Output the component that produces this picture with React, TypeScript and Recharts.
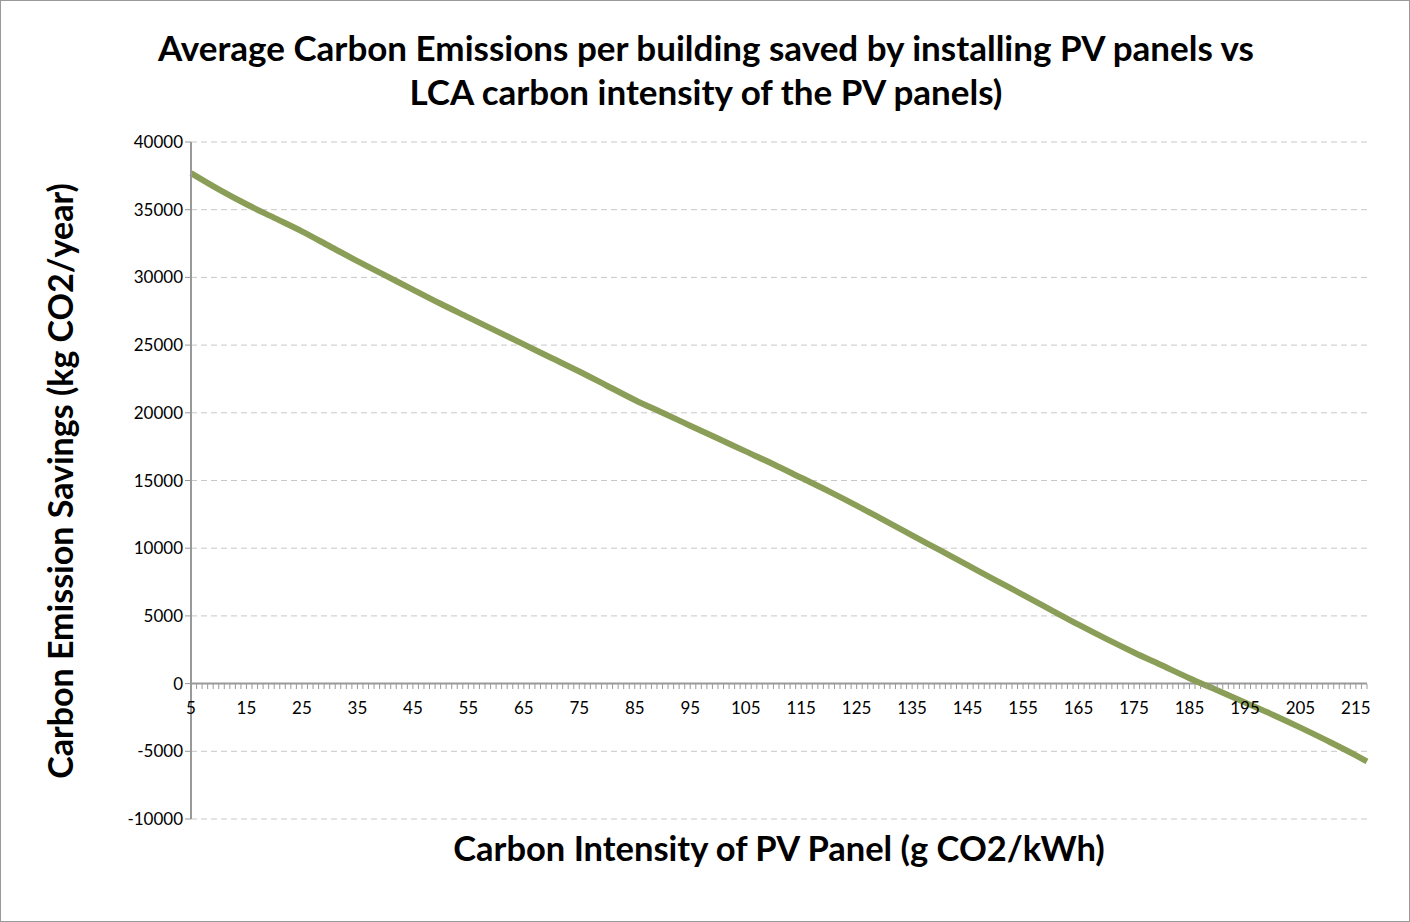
import React from 'react';
import { LineChart, Line, XAxis, YAxis, CartesianGrid, ReferenceLine } from 'recharts';

const xValues = [5, 10, 15, 20, 25, 30, 35, 40, 45, 50, 55, 60, 65, 70, 75, 80, 85, 90, 95, 100, 105, 110, 115, 120, 125, 130, 135, 140, 145, 150, 155, 160, 165, 170, 175, 180, 185, 190, 195, 200, 205, 210, 215, 217];
const savings = [37700, 36500, 35400, 34400, 33400, 32300, 31200, 30150, 29100, 28050, 27050, 26050, 25050, 24050, 23050, 22000, 20950, 20000, 19050, 18100, 17150, 16200, 15200, 14200, 13150, 12050, 10950, 9850, 8750, 7650, 6550, 5450, 4350, 3300, 2300, 1350, 400, -500, -1400, -2300, -3250, -4250, -5300, -5750];
const yTicks = [-10000, -5000, 0, 5000, 10000, 15000, 20000, 25000, 30000, 35000, 40000];
const xTicks: number[] = [];
for (let i = 5; i <= 217; i++) xTicks.push(i);

const data = xValues.map((x, i) => ({ x, v: savings[i] }));
const SHIFT = 135;
const font = 'Lato, "Open Sans", sans-serif';

const XTick = (props: any) => {
  const { x, y, payload } = props;
  const yy = y - SHIFT;
  const labeled = (payload.value - 5) % 10 === 0;
  return (
    <g>
      <line x1={x} x2={x} y1={yy - 8} y2={yy - 3} stroke="#999" strokeWidth={1} />
      {labeled && (
        <text x={x} y={yy + 22} textAnchor="middle" fontSize={17} fontFamily={font} fill="#000">
          {payload.value}
        </text>
      )}
    </g>
  );
};

export default function App() {
  return (
    <div style={{ position: 'absolute', left: 0, top: 0, width: 1410, height: 922, boxSizing: 'border-box', border: '1px solid #999', background: '#fff', fontFamily: font }}>
      <div style={{ position: 'absolute', top: 24, left: 0, width: 1410, textAlign: 'center', fontSize: 35, fontWeight: 700, lineHeight: '44px' }}>
        Average Carbon Emissions per building saved by installing PV panels vs<br />LCA carbon intensity of the PV panels)
      </div>
      <div style={{ position: 'absolute', left: 58, top: 480, transform: 'translate(-50%,-50%) rotate(-90deg)', whiteSpace: 'nowrap', fontSize: 34, fontWeight: 700 }}>
        Carbon Emission Savings (kg CO2/year)
      </div>
      <div style={{ position: 'absolute', left: 778, top: 846, transform: 'translate(-50%,-50%)', whiteSpace: 'nowrap', fontSize: 34.5, fontWeight: 700 }}>
        Carbon Intensity of PV Panel (g CO2/kWh)
      </div>
      <div style={{ position: 'absolute', left: 0, top: 0 }}>
        <LineChart width={1408} height={920} data={data} margin={{ top: 141, right: 42, left: 110, bottom: 101 }}>
          <CartesianGrid horizontal vertical={false} stroke="#c8c8c8" strokeDasharray="6 4" />
          <XAxis dataKey="x" type="number" domain={[5, 217]} ticks={xTicks} interval={0} axisLine={false} tickLine={false} height={1} tick={<XTick />} />
          <YAxis type="number" domain={[-10000, 40000]} ticks={yTicks} interval={0} width={80} axisLine={{ stroke: '#999', strokeWidth: 2 }} tickLine={{ stroke: '#999' }} tickSize={6} tick={{ fontSize: 17, fill: '#000', fontFamily: font }} />
          <ReferenceLine y={0} stroke="#999" strokeWidth={2} />
          <Line type="monotone" dataKey="v" stroke="#8a9e58" strokeWidth={6} dot={false} isAnimationActive={false} />
        </LineChart>
      </div>
    </div>
  );
}
